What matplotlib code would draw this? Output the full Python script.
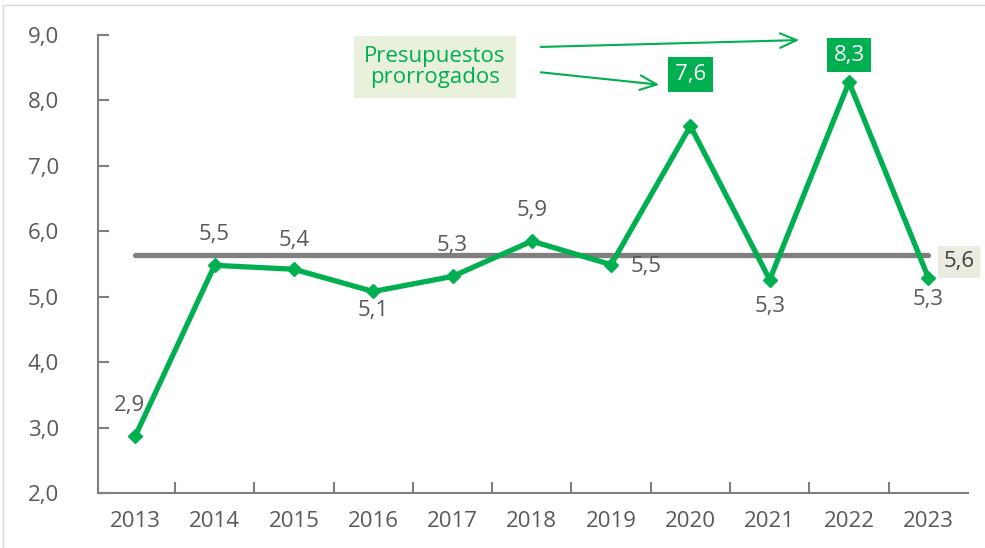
import matplotlib
matplotlib.use("Agg")
import matplotlib.pyplot as plt

years = ["2013", "2014", "2015", "2016", "2017", "2018", "2019", "2020", "2021", "2022", "2023"]
values = [2.87, 5.48, 5.42, 5.08, 5.31, 5.85, 5.49, 7.61, 5.26, 8.28, 5.29]
labels = ["2,9", "5,5", "5,4", "5,1", "5,3", "5,9", "5,5", "7,6", "5,3", "8,3", "5,3"]
average = 5.64
average_label = "5,6"
yticks = [2, 3, 4, 5, 6, 7, 8, 9]
ytick_labels = ["2,0", "3,0", "4,0", "5,0", "6,0", "7,0", "8,0", "9,0"]
note = "Presupuestos\nprorrogados"

plt.rcParams['font.family'] = ['Open Sans', 'DejaVu Sans']
GREEN = "#00b050"
GRAY = "#7f7f7f"
TXT = "#595959"
FS = 16

fig = plt.figure(figsize=(9.85, 5.48), dpi=100)
ax = fig.add_axes([98/985, 1-493/548, (968-98)/985, (493-35)/548])
x = list(range(len(years)))

ax.plot([x[0], x[-1]], [average]*2, color=GRAY, lw=3.8, solid_capstyle='round', zorder=2)
ax.plot(x, values, color=GREEN, lw=3.8, marker='D', ms=7, zorder=3)

ax.set_xlim(-0.47, 10.5)
ax.set_ylim(2, 9)
ax.set_yticks(yticks)
ax.set_yticklabels(ytick_labels)
ax.set_xticks(x)
ax.set_xticklabels(years)
ax.set_xticks([i + 0.5 for i in range(len(years) - 1)], minor=True)
ax.tick_params(axis='x', which='major', length=0, pad=13, labelsize=FS, labelcolor=TXT)
ax.tick_params(axis='x', which='minor', direction='in', length=8, color=GRAY, width=1.5)
ax.tick_params(axis='y', direction='in', length=8, color=GRAY, width=1.5, pad=28, labelsize=FS, labelcolor=TXT)
for s in ['top', 'right']:
    ax.spines[s].set_visible(False)
for s in ['left', 'bottom']:
    ax.spines[s].set_color(GRAY)
    ax.spines[s].set_linewidth(1.5)

# value labels: offsets in points (dx, dy)
offsets = [(-4, 22), (0, 22), (0, 21), (0, -14), (0, 22), (0, 22), (25, -1), None, (0, -19), None, (0, -16)]
for i, (v, lab, off) in enumerate(zip(values, labels, offsets)):
    if off is None:
        continue
    ax.annotate(lab, (i, v), xytext=off, textcoords='offset points', ha='center', va='center',
                fontsize=FS, color=TXT, zorder=5)

# boxed labels for 2020 and 2022
ax.annotate(labels[7], (7, values[7]), xytext=(0, 37), textcoords='offset points', ha='center', va='center',
            fontsize=FS, color='white',
            bbox=dict(boxstyle='square,pad=0.3', fc=GREEN, ec='none'), zorder=5)
ax.annotate(labels[9], (9, values[9]), xytext=(0, 19.5), textcoords='offset points', ha='center', va='center',
            fontsize=FS, color='white',
            bbox=dict(boxstyle='square,pad=0.3', fc=GREEN, ec='none'), zorder=5)

# average label
ax.annotate(average_label, (x[-1], average), xytext=(11, -5), textcoords='offset points', ha='left', va='center',
            fontsize=FS, color='#404040', annotation_clip=False,
            bbox=dict(boxstyle='square,pad=0.25', fc='#ecebe0', ec='none'), zorder=5)

# note box
fig.text(435/985, 1-67/548, note, ha='center', va='center', fontsize=FS, color=GREEN, linespacing=1.0,
         bbox=dict(boxstyle='square,pad=0.45', fc='#e9f1dc', ec='none'))
# arrows
for (x0, y0), (x1, y1) in [((538, 47), (802, 40)), ((538, 72), (662, 85))]:
    fig.add_artist(matplotlib.patches.FancyArrowPatch((x0/985, 1-y0/548), (x1/985, 1-y1/548),
                   transform=fig.transFigure, arrowstyle='->,head_length=8,head_width=3.5',
                   color=GREEN, lw=1.5, mutation_scale=1.5))

# frame
fig.add_artist(plt.Line2D([3/985, 3/985], [0, 1-5/548], transform=fig.transFigure, color='#d9d9d9', lw=1))
fig.add_artist(plt.Line2D([3/985, 1], [1-5/548, 1-5/548], transform=fig.transFigure, color='#d9d9d9', lw=1))

fig.savefig("out.png", dpi=100)
